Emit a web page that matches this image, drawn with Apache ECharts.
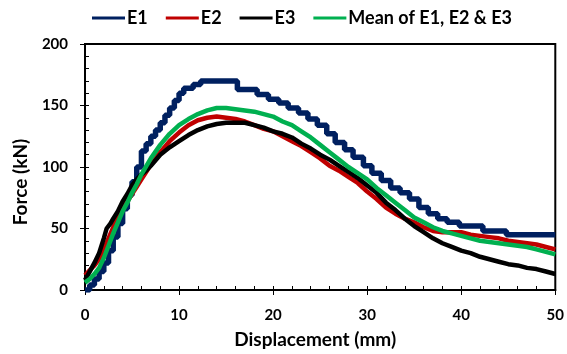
<!DOCTYPE html>
<html><head><meta charset="utf-8">
<script src="https://cdn.jsdelivr.net/npm/echarts@6/dist/echarts.min.js"></script>
<style>html,body{margin:0;padding:0;background:#fff}#c{width:567px;height:354px}</style>
</head><body><div id="c"></div>
<script>
// Data (displacement mm, force kN)
const seriesNames = ['E1', 'E2', 'E3', 'Mean of E1, E2 & E3'];
const xTicks = [0, 10, 20, 30, 40, 50];
const yTicks = [0, 50, 100, 150, 200];

const e1X = [0,0.5,1,1.5,2,2.5,3,3.5,4,4.5,5,5.5,6,6.5,7,7.5,8,8.5,9,9.5,10,10.5,11.5,12.3,16.2,18.3,19.5,20.6,21.6,22.7,23.7,24.7,25.7,26.6,27.6,28.5,29.6,30.5,31.5,32.5,33.5,34.5,35.5,36.5,37.5,38.5,39.8,42.3,44.8,50];
const e1Y = [0,4,9,15,22,32,43,54,66,77,88,100,113,119,125,130,136,142,148,154,160,164,167,170,163,159,155,152,148,144,139,134,127,120,114,108,101,95,89,83,79,74,67,62,58,55,52,48,45,45];

const e2X = [0,0.5,1,1.5,2,2.5,3,3.5,4,4.5,5,5.5,6,6.5,7,8,9,10,11,12,13,14,15,16,17,18,19,20,21,22,23,24,25,26,27,28,29,30,31,32,33,34,35,36,37,38,39,40,41,42,43,44,45,46,47,48,49,50];
const e2Y = [12,16,20,25,33,42,51,59,66,72,78,84,90,96,102,112,121,128,134,138,140,141,140,139,137,134,131,129,125,121,117,112,107,101,97,92,87,80,74,67,62,58,55,51,48,47,47,47,45,44,43,42,40,39,38,37,35,33];

const e3X = [0,0.5,1,1.5,2,2.3,2.7,3,3.5,4,4.5,5,5.5,6,6.5,7,8,9,10,11,12,13,14,15,16,17,18,19,20,21,22,23,24,25,26,27,28,29,30,31,32,33,34,35,36,37,38,39,40,41,42,43,44,45,46,47,48,49,50];
const e3Y = [8,15,22,30,42,50,54,58,64,72,78,85,90,94,97,101,110,116,121,126,130,133,135,136,136,136,134,132,129,127,124,119,115,110,106,101,96,91,85,79,71,65,58,52,47,42,38,35,32,30,27,25,23,21,20,18,17,15,13];

const meanX = [0,0.5,1,1.5,2,2.5,3,3.5,4,4.5,5,5.5,6,7,8,9,10,11,12,13,14,15,16,17,18,19,20,21,22,23,24,25,26,27,28,29,30,31,32,33,34,35,36,37,38,39,40,41,42,43,44,45,46,47,48,49,50];
const meanY = [6,9,13,18,26,36,46,55,64,71,79,86,94,107,118,127,134,139,143,146,148,148,147,146,145,143,141,137,134,129,124,118,112,106,100,95,90,83,77,71,65,59,55,51,48,46,44,42,40,39,38,37,36,35,33,31,29];

const xs = [e1X, e2X, e3X, meanX];
const ys = [e1Y, e2Y, e3Y, meanY];
const colors = ['#002060', '#c00000', '#000000', '#00b050'];

const FONT = 'Lato';
const chart = echarts.init(document.getElementById('c'), null, {renderer: 'canvas'});
const series = seriesNames.map((n, k) => ({
  name: n,
  type: 'line',
  data: xs[k].map((x, i) => [x, ys[k][i]]),
  step: k === 0 ? 'end' : false,
  showSymbol: false,
  symbol: 'none',
  lineStyle: {color: colors[k], width: k === 0 ? 5.5 : 4.5},
  itemStyle: {color: colors[k]},
  z: 2 + k,
  animation: false
}));

chart.setOption({
  animation: false,
  textStyle: {fontFamily: FONT},
  legend: {
    left: 92, top: 9, padding: 0,
    icon: 'rect', itemWidth: 33, itemHeight: 3, itemGap: 18,
    textStyle: {fontFamily: FONT, fontWeight: 'bold', fontSize: 18, color: '#000', padding: [0, 0, 0, -3]},
    data: seriesNames
  },
  grid: {left: 85, right: 10, top: 44, bottom: 63, show: true, borderColor: '#000', borderWidth: 2, backgroundColor: 'transparent'},
  xAxis: [{
    type: 'value', min: xTicks[0], max: xTicks[xTicks.length - 1], interval: 10,
    name: 'Displacement (mm)', nameLocation: 'middle', nameGap: 40,
    nameTextStyle: {fontFamily: FONT, fontWeight: 'bold', fontSize: 19, color: '#000', padding: [0, 10, 0, 0]},
    axisLine: {show: true, lineStyle: {color: '#000', width: 2}},
    axisTick: {show: true, inside: false, length: 5, lineStyle: {color: '#000', width: 1}},
    axisLabel: {margin: 18, fontFamily: FONT, fontWeight: 'bold', fontSize: 15, color: '#000'},
    splitLine: {show: false}
  }, {
    type: 'value', min: 0, max: 50, interval: 2, position: 'bottom',
    axisLine: {show: false}, axisLabel: {show: false}, splitLine: {show: false},
    axisTick: {show: true, inside: true, length: 4, lineStyle: {color: '#000', width: 1}}
  }],
  yAxis: [{
    type: 'value', min: yTicks[0], max: yTicks[yTicks.length - 1], interval: 50,
    name: 'Force (kN)', nameLocation: 'middle', nameGap: 55,
    nameTextStyle: {fontFamily: FONT, fontWeight: 'bold', fontSize: 19, color: '#000', padding: [0, 30, 0, 0]},
    axisLine: {show: true, lineStyle: {color: '#000', width: 2}},
    axisTick: {show: true, inside: false, length: 5, lineStyle: {color: '#000', width: 1}},
    axisLabel: {margin: 17, fontFamily: FONT, fontWeight: 'bold', fontSize: 15, color: '#000'},
    splitLine: {show: false}
  }, {
    type: 'value', min: 0, max: 200, interval: 10, position: 'left',
    axisLine: {show: false}, axisLabel: {show: false}, splitLine: {show: false},
    axisTick: {show: true, inside: true, length: 4, lineStyle: {color: '#000', width: 1}}
  }],
  series: series
});
</script></body></html>
